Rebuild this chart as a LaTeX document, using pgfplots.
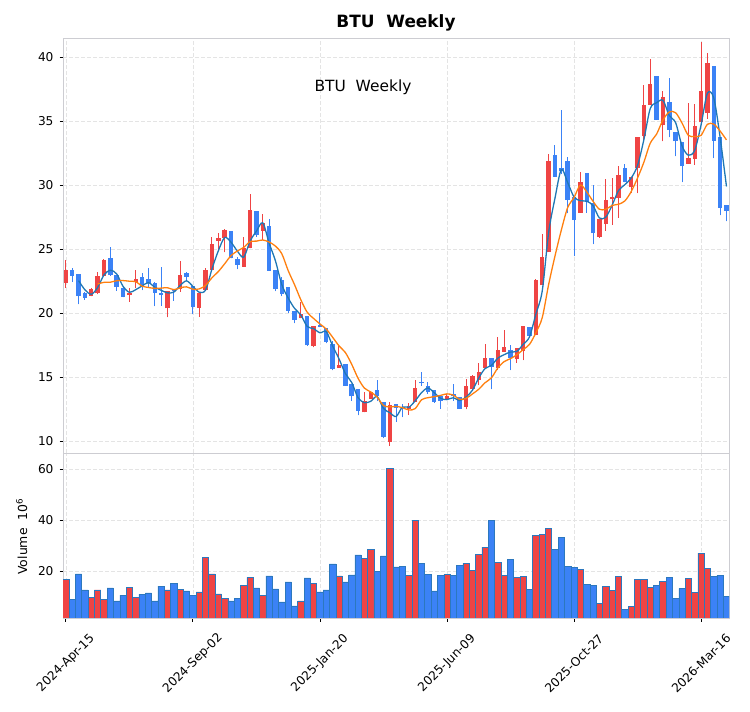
\documentclass[border=0pt]{standalone}
\usepackage{fontspec}
\setmainfont{DejaVu Sans}
\usepackage{pgfplots}
\pgfplotsset{compat=1.18}
\usepackage{pgfplotstable}

\definecolor{upred}{RGB}{239,68,68}
\definecolor{dnblue}{RGB}{59,130,246}
\definecolor{edgec}{RGB}{44,120,190}
\definecolor{mathree}{RGB}{31,119,180}
\definecolor{masix}{RGB}{255,127,14}
\definecolor{gridc}{RGB}{228,228,228}
\definecolor{framec}{RGB}{205,205,210}

\pgfplotstableread{
i o h l c v
0 22.39 24.16 22.00 23.39 16.9
4 21.38 22.00 21.33 21.90 9.8
5 21.56 23.26 21.51 22.92 12.7
6 22.94 24.25 22.90 24.19 9.0
10 21.43 21.95 20.91 21.59 13.7
11 22.47 23.38 21.95 22.68 9.8
16 20.39 21.77 19.69 21.77 12.7
18 21.90 24.09 21.69 22.99 12.9
21 20.44 21.61 19.74 21.61 11.9
22 21.82 23.51 21.80 23.38 25.5
23 23.38 25.99 23.38 25.39 19.0
24 25.68 26.25 24.95 25.86 11.1
25 25.86 26.56 24.76 26.51 9.4
28 23.64 25.99 23.64 25.08 14.5
29 25.08 29.32 25.08 28.07 17.6
31 26.46 27.76 25.73 27.03 10.6
37 19.61 20.91 19.61 19.92 8.4
39 17.44 19.00 17.34 19.00 15.4
43 15.73 17.43 15.73 15.94 18.2
47 12.26 13.83 12.26 13.19 25.1
48 13.32 13.96 13.32 13.83 28.6
51 9.97 13.11 9.67 12.85 60.4
54 12.54 12.98 12.08 12.75 18.4
55 13.11 14.81 13.11 14.16 40.0
60 13.32 13.70 13.32 13.52 18.8
63 12.70 14.84 12.49 14.32 23.1
64 14.06 15.18 14.00 15.10 20.4
65 14.79 16.14 14.40 15.44 26.7
66 15.70 17.57 15.70 16.53 29.4
68 15.70 18.12 15.57 17.13 23.5
69 17.00 18.69 17.00 17.34 18.4
71 16.40 17.26 16.14 17.26 17.6
72 17.08 19.00 16.35 19.00 18.0
74 18.30 22.65 18.30 22.60 34.1
75 22.18 26.19 22.18 24.42 34.5
76 24.81 32.44 24.81 31.89 36.9
81 27.86 31.06 27.86 30.28 20.8
84 26.00 27.40 25.90 27.40 7.5
85 27.00 30.52 26.46 28.88 14.1
86 28.91 30.57 26.93 29.06 12.5
87 29.01 31.48 27.45 30.83 18.0
89 29.84 30.62 29.40 30.62 6.3
90 31.35 33.78 29.40 33.78 16.9
91 33.88 37.81 33.44 36.30 16.9
92 36.30 39.87 36.30 37.92 13.7
94 34.74 37.34 33.44 36.87 16.1
98 31.67 36.43 31.67 32.14 17.3
99 32.08 36.35 31.61 34.61 11.8
100 34.92 41.20 34.92 37.40 27.1
101 35.65 40.34 35.21 39.56 21.2
}\upT

\pgfplotstableread{
i o h l c v
1 23.39 23.57 22.47 22.94 9.0
2 23.07 23.10 20.70 21.35 19.0
3 21.59 21.70 21.07 21.22 12.7
7 24.32 25.15 22.95 22.99 13.5
8 22.99 23.00 21.77 22.06 8.4
9 22.00 22.16 21.25 21.28 10.7
12 22.81 23.12 21.82 22.16 11.0
13 22.68 23.52 21.99 22.37 11.5
14 22.37 22.42 20.57 21.59 8.4
15 21.59 23.65 20.60 21.43 14.2
17 21.90 21.90 21.00 21.77 15.4
19 23.18 23.26 22.60 22.86 12.3
20 22.14 22.14 19.92 20.47 10.7
26 26.43 26.43 24.30 24.30 8.4
27 24.22 24.42 23.46 23.78 9.5
30 28.00 28.00 25.98 26.11 13.5
32 26.82 27.34 23.33 23.33 18.2
33 23.38 23.38 21.74 21.90 13.1
34 22.60 22.80 21.35 21.48 8.0
35 22.03 22.03 20.05 20.21 15.8
36 20.21 20.21 19.22 19.48 6.4
38 19.79 19.79 17.45 17.50 17.4
40 19.09 20.05 18.93 18.93 11.9
41 18.83 18.83 17.65 17.78 12.7
42 17.63 17.81 15.55 15.63 22.9
44 16.02 16.02 14.34 14.34 15.8
45 14.47 14.47 13.19 13.52 18.6
46 14.09 14.09 12.03 12.36 26.4
49 14.01 14.78 13.14 13.52 20.0
50 13.06 13.06 10.23 10.36 26.0
52 12.93 12.93 11.52 12.62 21.7
53 12.70 12.93 11.90 12.60 22.0
56 14.65 15.42 14.34 14.52 23.1
57 14.34 14.65 13.70 13.83 18.8
58 14.04 14.04 13.00 13.06 12.3
59 13.52 13.52 12.54 13.19 18.4
61 13.70 14.47 13.19 13.52 18.4
62 13.44 13.44 12.54 12.54 22.4
67 16.53 16.53 14.06 15.83 40.0
70 17.13 17.52 15.57 16.48 24.7
73 18.90 18.90 18.12 18.25 12.9
77 32.36 33.14 30.67 30.67 28.6
78 31.32 35.88 30.90 31.14 33.3
79 31.89 32.18 27.81 28.85 22.0
80 29.11 29.11 24.47 27.28 21.6
82 30.98 30.98 27.86 28.72 15.0
83 28.64 30.02 25.41 26.24 14.5
88 31.35 31.67 30.26 30.26 5.2
93 38.52 38.52 35.13 35.13 14.5
95 36.51 38.39 33.75 34.35 17.6
96 34.17 34.17 32.27 33.44 9.4
97 33.39 33.39 30.26 31.48 13.3
102 39.30 39.30 32.13 33.49 18.0
103 33.75 33.75 27.66 28.23 18.4
104 28.44 28.44 27.19 28.02 10.2
}\dnT

\pgfplotstableread{
i m
2 22.56
3 21.84
4 21.49
5 22.01
6 23.00
7 23.37
8 23.08
9 22.11
10 21.64
11 21.85
12 22.14
13 22.40
14 22.04
15 21.80
16 21.60
17 21.66
18 22.18
19 22.54
20 22.11
21 21.65
22 21.82
23 23.46
24 24.88
25 25.92
26 25.56
27 24.86
28 24.39
29 25.64
30 26.42
31 27.07
32 25.49
33 24.09
34 22.24
35 21.20
36 20.39
37 19.87
38 18.97
39 18.81
40 18.48
41 18.57
42 17.45
43 16.45
44 15.30
45 14.60
46 13.41
47 13.02
48 13.13
49 13.51
50 12.57
51 12.24
52 11.94
53 12.69
54 12.66
55 13.17
56 13.81
57 14.17
58 13.80
59 13.36
60 13.26
61 13.41
62 13.19
63 13.46
64 13.99
65 14.95
66 15.69
67 15.93
68 16.50
69 16.77
70 16.98
71 17.03
72 17.58
73 18.17
74 19.95
75 21.76
76 26.30
77 28.99
78 31.23
79 30.22
80 29.09
81 28.80
82 28.76
83 28.41
84 27.45
85 27.51
86 28.45
87 29.59
88 30.05
89 30.57
90 31.55
91 33.57
92 36.00
93 36.45
94 36.64
95 35.45
96 34.89
97 33.09
98 32.35
99 32.74
100 34.72
101 37.19
102 36.82
103 33.76
104 29.91
}\maThree

\pgfplotstableread{
i m
5 22.29
6 22.42
7 22.43
8 22.55
9 22.56
10 22.51
11 22.47
12 22.13
13 22.02
14 21.95
15 21.97
16 22.00
17 21.85
18 21.99
19 22.07
20 21.88
21 21.91
22 22.18
23 22.78
24 23.26
25 23.87
26 24.51
27 24.87
28 25.15
29 25.60
30 25.64
31 25.73
32 25.57
33 25.25
34 24.65
35 23.34
36 22.24
37 21.05
38 20.08
39 19.60
40 19.17
41 18.77
42 18.13
43 17.46
44 16.94
45 16.02
46 14.93
47 14.16
48 13.86
49 13.46
50 12.80
51 12.69
52 12.73
53 12.63
54 12.45
55 12.56
56 13.25
57 13.41
58 13.49
59 13.59
60 13.71
61 13.61
62 13.28
63 13.36
64 13.70
65 14.07
66 14.58
67 14.96
68 15.73
69 16.23
70 16.46
71 16.76
72 17.17
73 17.58
74 18.49
75 19.67
76 22.24
77 24.47
78 26.50
79 28.26
80 29.04
81 30.02
82 29.49
83 28.75
84 28.13
85 28.13
86 28.43
87 28.52
88 28.78
89 29.51
90 30.57
91 31.81
92 33.29
93 34.00
94 35.10
95 35.73
96 35.67
97 34.87
98 33.90
99 33.82
100 33.90
101 34.77
102 34.78
103 34.24
104 33.55
}\maSix

\pgfplotsset{
  panel/.style={
    scale only axis, width=666bp,
    xmin=-0.45, xmax=104.4,
    xtick={0,20,40,60,80,100},
    grid=major,
    major grid style={gridc, line width=0.7bp, dash pattern=on 3.5bp off 2.5bp},
    axis line style={framec, line width=0.9bp},
    tick align=outside, major tick length=3.5bp,
    tick style={black, line width=0.8bp},
    ytick pos=left, xtick pos=bottom,
    every tick label/.append style={font=\fontsize{12.2}{14}\selectfont, black},
    yticklabel style={xshift=-2.5bp},
  },
  wick/.style={only marks, mark=*, mark size=0pt, mark options={draw=none, fill=none},
    error bars/.cd, y dir=plus, y explicit, error mark=none,
    error bar style={line width=1bp, draw=#1, solid}},
  body/.style={only marks, mark=*, mark size=0pt, mark options={draw=none, fill=none},
    error bars/.cd, y dir=plus, y explicit, error mark=none,
    error bar style={line width=4.4bp, draw=#1, solid}},
}

\begin{document}
\begin{tikzpicture}
\useasboundingbox (0,0) rectangle (750bp,712bp);

\begin{axis}[panel,
  at={(63bp,259bp)}, anchor=south west, height=415bp,
  ymin=9.09, ymax=41.51,
  ytick={10,15,20,25,30,35,40}, yticklabels={10,15,20,25,30,35,40},
  xticklabels={}, xtick style={draw=none},
]
\addplot[wick=upred] table[x=i, y=l, y error plus expr=\thisrow{h}-\thisrow{l}] {\upT};
\addplot[wick=dnblue] table[x=i, y=l, y error plus expr=\thisrow{h}-\thisrow{l}] {\dnT};
\addplot[body=upred] table[x=i, y=o, y error plus expr=\thisrow{c}-\thisrow{o}] {\upT};
\addplot[body=dnblue] table[x=i, y=c, y error plus expr=\thisrow{o}-\thisrow{c}] {\dnT};
\addplot[smooth, mathree, line width=1.3bp, mark=none] table[x=i, y=m] {\maThree};
\addplot[smooth, masix, line width=1.3bp, mark=none] table[x=i, y=m] {\maSix};
\end{axis}

\begin{axis}[panel,
  at={(63bp,94bp)}, anchor=south west, height=165bp,
  ymin=1.7, ymax=66.3,
  ytick={20,40,60}, yticklabels={20,40,60},
  xticklabels={2024-Apr-15,2024-Sep-02,2025-Jan-20,2025-Jun-09,2025-Oct-27,2026-Mar-16},
  xticklabel style={yshift=-42bp, rotate=45, anchor=center},
]
\addplot[ybar, bar width=6.35bp, bar shift=0pt, fill=upred, draw=edgec, line width=0.6bp] table[x=i, y=v] {\upT};
\addplot[ybar, bar width=6.35bp, bar shift=0pt, fill=dnblue, draw=edgec, line width=0.6bp] table[x=i, y=v] {\dnT};
\end{axis}

\node[font=\bfseries\fontsize{17}{20}\selectfont] at (396bp,689bp) {BTU\ \ Weekly};
\node[font=\fontsize{15.5}{18}\selectfont] at (363bp,625bp) {BTU\ \ Weekly};
\node[rotate=90, font=\fontsize{12.5}{15}\selectfont] at (21.7bp,175.5bp) {Volume\ \ 10\textsuperscript{6}};
\end{tikzpicture}
\end{document}
